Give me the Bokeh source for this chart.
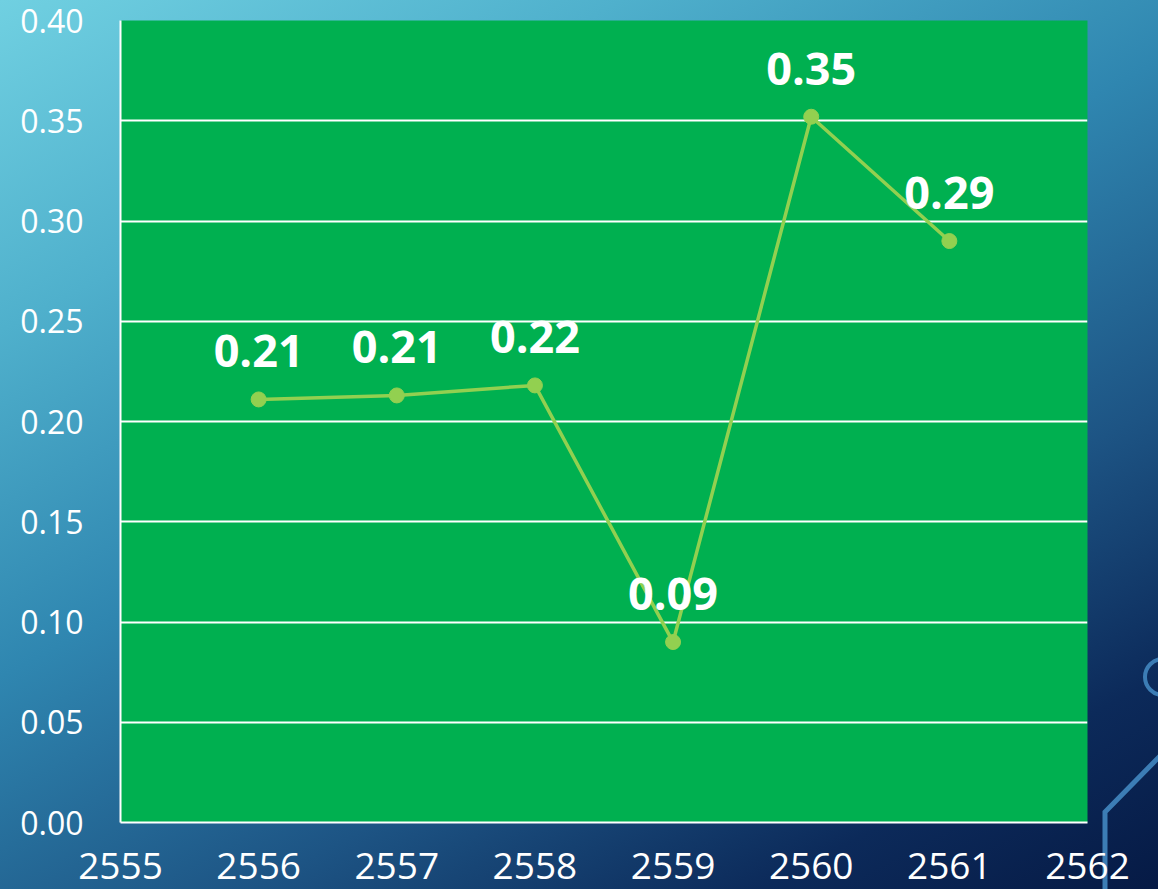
from bokeh.plotting import figure
from bokeh.models import ColumnDataSource, FixedTicker, NumeralTickFormatter, Range1d, GlobalInlineStyleSheet
from bokeh.core.properties import value
from bokeh.embed import file_html
from bokeh.resources import INLINE

years = [2556, 2557, 2558, 2559, 2560, 2561]
values = [0.211, 0.213, 0.218, 0.090, 0.352, 0.290]
labels = [f"{v:.2f}" for v in values]
x_ticks = [2555, 2556, 2557, 2558, 2559, 2560, 2561, 2562]
y_ticks = [0.0, 0.05, 0.10, 0.15, 0.20, 0.25, 0.30, 0.35, 0.40]

deco = ("data:image/svg+xml;utf8,"
        "<svg xmlns='http://www.w3.org/2000/svg' width='1158' height='889'>"
        "<circle cx='1163' cy='677' r='18' fill='none' stroke='%233c7db5' stroke-width='4'/>"
        "<polyline points='1160,756 1105,812 1105,889' fill='none' stroke='%233c7db5' stroke-width='5'/>"
        "</svg>")

css = ('html { height: 100%; background: url("' + deco + '") no-repeat 0 0, '
       'linear-gradient(152deg, #70d0e1 0%, #4fb0cc 22%, #2f86b0 45%, #1d5484 68%, #0c2a5a 86%, #061a45 100%); } '
       'body { background: transparent; }')
bg_css = GlobalInlineStyleSheet(css=css)

W, H = 1158, 889
p = figure(width=W, height=H, output_backend="svg", toolbar_location=None,
           x_range=Range1d(2555, 2562), y_range=Range1d(0, 0.40),
           min_border_left=120, min_border_right=71, min_border_top=20, min_border_bottom=67,
           border_fill_color=None, background_fill_color="#00B050",
           outline_line_color=None, stylesheets=[bg_css])

src = ColumnDataSource(dict(x=years, y=values, t=labels))

p.line("x", "y", source=src, line_color="#92D050", line_width=3.5)
p.scatter("x", "y", source=src, size=15, fill_color="#92D050", line_color="#92D050")
p.text("x", "y", text="t", source=src, text_color="white", text_font=value("Open Sans"),
       text_font_style="bold", text_font_size="45px", text_align="center",
       text_baseline="middle", y_offset=-48)

p.xgrid.visible = False
p.ygrid.grid_line_color = "white"
p.ygrid.grid_line_width = 2
p.ygrid.ticker = FixedTicker(ticks=y_ticks)

p.xaxis.ticker = FixedTicker(ticks=x_ticks)
p.xaxis.formatter = NumeralTickFormatter(format="0")
p.yaxis.ticker = FixedTicker(ticks=y_ticks)
p.yaxis.formatter = NumeralTickFormatter(format="0.00")

for ax in (p.xaxis[0], p.yaxis[0]):
    ax.axis_line_color = "white"
    ax.axis_line_width = 2
    ax.major_tick_line_color = None
    ax.minor_tick_line_color = None
    ax.major_label_text_color = "white"
    ax.major_label_text_font = "Open Sans"

p.xaxis.major_label_text_font_size = "37px"
p.yaxis.major_label_text_font_size = "32px"
p.xaxis.major_label_standoff = 24
p.yaxis.major_label_standoff = 31

open("out.html", "w").write(file_html(p, INLINE))
